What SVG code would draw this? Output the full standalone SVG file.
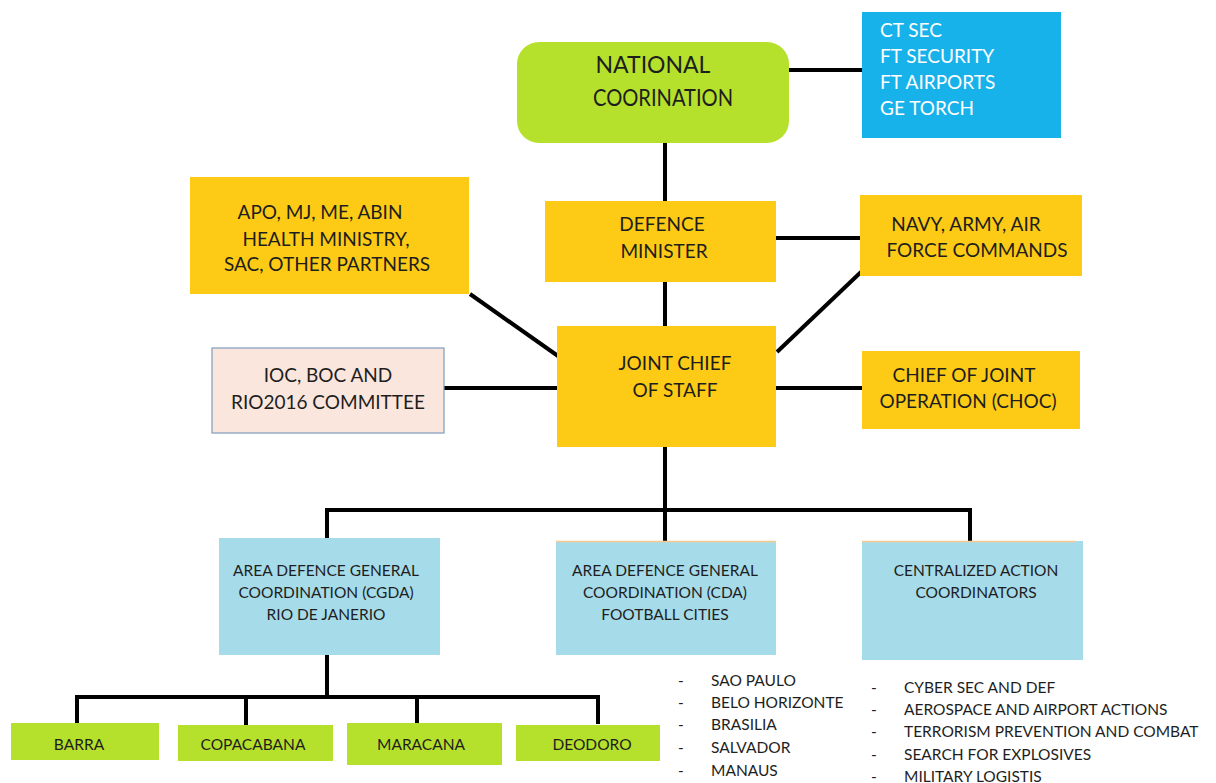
<svg xmlns="http://www.w3.org/2000/svg" width="1216" height="783" viewBox="0 0 1216 783">
  <style>
    text { font-family: Lato, "Open Sans", "Liberation Sans", sans-serif; fill: #1e1e1e; text-anchor: middle; }
    .lime { fill: #b5e12c; }
    .gold { fill: #fdcb15; }
    .sky { fill: #a6dbe9; }
    .cyan { fill: #18b2ea; }
    .edge { stroke: #000; stroke-width: 4; fill: none; stroke-linecap: butt; }
    .t24 { font-size: 23px; }
    .t18 { font-size: 19px; }
    .t15 { font-size: 15.5px; }
    .w { fill: #ffffff; text-anchor: start; font-size: 19px; }
    .li { text-anchor: start; font-size: 15.5px; }
  </style>
  <rect width="1216" height="783" fill="#ffffff"/>

  <g id="connectors">
    <line class="edge" x1="789" y1="70" x2="862" y2="70"/>
    <line class="edge" x1="665" y1="143" x2="665" y2="201"/>
    <line class="edge" x1="776" y1="238" x2="860" y2="238"/>
    <line class="edge" x1="665" y1="282" x2="665" y2="326"/>
    <line class="edge" x1="470" y1="294" x2="558" y2="356"/>
    <line class="edge" x1="861" y1="272" x2="777" y2="352"/>
    <line class="edge" x1="444" y1="388" x2="557" y2="388"/>
    <line class="edge" x1="776" y1="388" x2="862" y2="388"/>
    <line class="edge" x1="665" y1="447" x2="665" y2="541"/>
    <polyline class="edge" points="327,540 327,510 970,510 970,541"/>
    <line class="edge" x1="327" y1="655" x2="327" y2="697"/>
    <polyline class="edge" points="77,723 77,697 598,697 598,724"/>
    <line class="edge" x1="246" y1="697" x2="246" y2="726"/>
    <line class="edge" x1="417" y1="697" x2="417" y2="724"/>
  </g>

  <g id="national">
    <rect class="lime" x="517" y="42" width="272" height="101" rx="22"/>
    <text class="t24" x="653" y="73">NATIONAL</text>
    <text class="t24" x="663" y="106" textLength="140" lengthAdjust="spacingAndGlyphs">COORINATION</text>
  </g>

  <g id="task-forces">
    <rect class="cyan" x="862" y="12" width="199" height="126"/>
    <text class="w" x="880" y="37">CT SEC</text>
    <text class="w" x="880" y="63">FT SECURITY</text>
    <text class="w" x="880" y="89">FT AIRPORTS</text>
    <text class="w" x="880" y="115">GE TORCH</text>
  </g>

  <g id="defence-minister">
    <rect class="gold" x="545" y="201" width="231" height="81"/>
    <text class="t18" x="662" y="231">DEFENCE</text>
    <text class="t18" x="664" y="258">MINISTER</text>
  </g>

  <g id="partners">
    <rect class="gold" x="190" y="177" width="279" height="117"/>
    <text class="t18" x="320" y="219">APO, MJ, ME, ABIN</text>
    <text class="t18" x="326" y="246">HEALTH MINISTRY,</text>
    <text class="t18" x="327" y="271">SAC, OTHER PARTNERS</text>
  </g>

  <g id="commands">
    <rect class="gold" x="860" y="195" width="222" height="81"/>
    <text class="t18" x="966" y="231">NAVY, ARMY, AIR</text>
    <text class="t18" x="977" y="257">FORCE COMMANDS</text>
  </g>

  <g id="joint-chief">
    <rect class="gold" x="557" y="326" width="219" height="121"/>
    <text class="t18" x="675" y="370">JOINT CHIEF</text>
    <text class="t18" x="675" y="397">OF STAFF</text>
  </g>

  <g id="committee">
    <rect x="212" y="348" width="232" height="85" fill="#fae6dc" stroke="#7f9cbc" stroke-width="1.2"/>
    <text class="t18" x="328" y="382">IOC, BOC AND</text>
    <text class="t18" x="328" y="409">RIO2016 COMMITTEE</text>
  </g>

  <g id="choc">
    <rect class="gold" x="862" y="351" width="218" height="78"/>
    <text class="t18" x="964" y="382">CHIEF OF JOINT</text>
    <text class="t18" x="968" y="408">OPERATION (CHOC)</text>
  </g>

  <g id="cgda">
    <rect class="sky" x="219" y="538" width="221" height="117"/>
    <text class="t15" x="326" y="576">AREA DEFENCE GENERAL</text>
    <text class="t15" x="326" y="598">COORDINATION (CGDA)</text>
    <text class="t15" x="326" y="620">RIO DE JANERIO</text>
  </g>

  <g id="cda">
    <rect class="sky" x="556" y="541" width="220" height="114"/>
    <line x1="556" y1="541.5" x2="776" y2="541.5" stroke="#f7c98a" stroke-width="1.5"/>
    <text class="t15" x="665" y="576">AREA DEFENCE GENERAL</text>
    <text class="t15" x="665" y="598">COORDINATION (CDA)</text>
    <text class="t15" x="665" y="620">FOOTBALL CITIES</text>
  </g>

  <g id="centralized">
    <rect class="sky" x="862" y="541" width="221" height="119"/>
    <line x1="862" y1="541.5" x2="1076" y2="541.5" stroke="#f7c98a" stroke-width="1.5"/>
    <text class="t15" x="976" y="576">CENTRALIZED ACTION</text>
    <text class="t15" x="976" y="598">COORDINATORS</text>
  </g>

  <g id="barra">
    <rect class="lime" x="11" y="723" width="148" height="37"/>
    <text class="t15" x="79" y="750">BARRA</text>
  </g>
  <g id="copacabana">
    <rect class="lime" x="178" y="725" width="155" height="36"/>
    <text class="t15" x="253" y="750">COPACABANA</text>
  </g>
  <g id="maracana">
    <rect class="lime" x="347" y="723" width="155" height="42"/>
    <text class="t15" x="421" y="750">MARACANA</text>
  </g>
  <g id="deodoro">
    <rect class="lime" x="516" y="725" width="144" height="36"/>
    <text class="t15" x="592" y="750">DEODORO</text>
  </g>

  <g id="football-cities">
    <text class="li" x="678" y="686">-</text>
    <text class="li" x="711" y="686">SAO PAULO</text>
    <text class="li" x="678" y="708">-</text>
    <text class="li" x="711" y="708">BELO HORIZONTE</text>
    <text class="li" x="678" y="730">-</text>
    <text class="li" x="711" y="730">BRASILIA</text>
    <text class="li" x="678" y="753">-</text>
    <text class="li" x="711" y="753">SALVADOR</text>
    <text class="li" x="678" y="776">-</text>
    <text class="li" x="711" y="776">MANAUS</text>
  </g>

  <g id="central-actions">
    <text class="li" x="871" y="693">-</text>
    <text class="li" x="904" y="693">CYBER SEC AND DEF</text>
    <text class="li" x="871" y="715">-</text>
    <text class="li" x="904" y="715">AEROSPACE AND AIRPORT ACTIONS</text>
    <text class="li" x="871" y="737">-</text>
    <text class="li" x="904" y="737">TERRORISM PREVENTION AND  COMBAT</text>
    <text class="li" x="871" y="760">-</text>
    <text class="li" x="904" y="760">SEARCH FOR EXPLOSIVES</text>
    <text class="li" x="871" y="782">-</text>
    <text class="li" x="904" y="782">MILITARY LOGISTIS</text>
  </g>
</svg>
